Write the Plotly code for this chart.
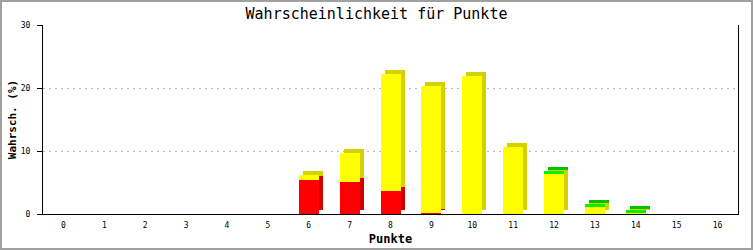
import plotly.graph_objects as go

categories = list(range(17))
red_vals    = [0, 0, 0, 0, 0, 0, 5.4, 5.1, 3.6, 0.2, 0, 0, 0, 0, 0, 0, 0]
yellow_vals = [0, 0, 0, 0, 0, 0, 0.8, 4.6, 18.6, 20.1, 21.9, 10.6, 6.5, 1.1, 0.15, 0, 0]
green_vals  = [0, 0, 0, 0, 0, 0, 0, 0, 0, 0, 0, 0, 0.3, 0.5, 0.45, 0, 0]
y_ticks = [0, 10, 20, 30]

W, H = 753, 250
ML, MR, MT, MB = 43, 15, 25, 36
PW, PH = W - ML - MR, H - MT - MB
YMAX = 30
px_per_cat = PW / len(categories)
px_per_unit = PH / YMAX

bar_w = 20 / px_per_cat
dx = 4 / px_per_cat
dy = 4 / px_per_unit

series = [
    ("rot", red_vals, "#FF0000", "#D00000"),
    ("gelb", yellow_vals, "#FFFF00", "#D2D200"),
    ("grün", green_vals, "#00F000", "#00C000"),
]

fig = go.Figure()
bases = [0.0] * len(categories)
seg = []
for name, vals, front, dark in series:
    b = list(bases)
    ys = [v if v > 0 else None for v in vals]
    seg.append((name, ys, b, front, dark))
    bases = [bb + v for bb, v in zip(bases, vals)]

# 3D side/top faces
for name, ys, b, front, dark in seg:
    fig.add_trace(go.Bar(
        x=categories, y=ys, base=[bb + dy for bb in b],
        width=bar_w, offset=-bar_w / 2 + dx,
        marker=dict(color=dark, line=dict(width=0)),
        showlegend=False, hoverinfo="skip"))
# front faces
for name, ys, b, front, dark in seg:
    fig.add_trace(go.Bar(
        x=categories, y=ys, base=b, name=name,
        width=bar_w, offset=-bar_w / 2,
        marker=dict(color=front, line=dict(width=0)),
        showlegend=False))

mono = "DejaVu Sans Mono"
fig.update_layout(
    width=W, height=H,
    margin=dict(l=ML, r=MR, t=MT, b=MB, pad=0, autoexpand=False),
    paper_bgcolor="white", plot_bgcolor="white",
    barmode="overlay", bargap=0,
    title=dict(text="Wahrscheinlichkeit für Punkte", x=0.5, xanchor="center",
               y=1 - 14 / H, yanchor="middle",
               font=dict(family=mono, size=15, color="black")),
    xaxis=dict(
        range=[-0.5, 16.5], tickmode="array", tickvals=categories,
        ticktext=[str(c) for c in categories], automargin=False,
        showgrid=False, zeroline=False, showline=True, linecolor="black", linewidth=1,
        ticks="", ticklabelstandoff=3, tickfont=dict(family=mono, size=8, color="black"),
        title=dict(text="<b>Punkte</b>", font=dict(family=mono, size=12, color="black"),
                   standoff=6),
    ),
    yaxis=dict(
        range=[0, YMAX], tickmode="array", tickvals=y_ticks, automargin=False,
        showgrid=True, gridcolor="#BBBBBB", gridwidth=1, griddash="2px,4px",
        zeroline=False, showline=True, linecolor="black", linewidth=1, mirror=True,
        ticks="outside", ticklen=5, tickcolor="black", tickwidth=1,
        ticklabelstandoff=5,
        tickfont=dict(family=mono, size=8, color="black"),
        title=dict(text="<b>Wahrsch. (%)</b>", font=dict(family=mono, size=11, color="black"),
                   standoff=1),
    ),
    shapes=[dict(type="rect", xref="paper", yref="paper",
                 x0=(1 - ML) / PW, x1=(W - 1 - ML) / PW,
                 y0=-(H - 1 - MT - PH) / PH, y1=(H - 1 - MB) / PH,
                 line=dict(color="#A0A0A0", width=2), layer="above")],
)

fig.write_html("out.html")
